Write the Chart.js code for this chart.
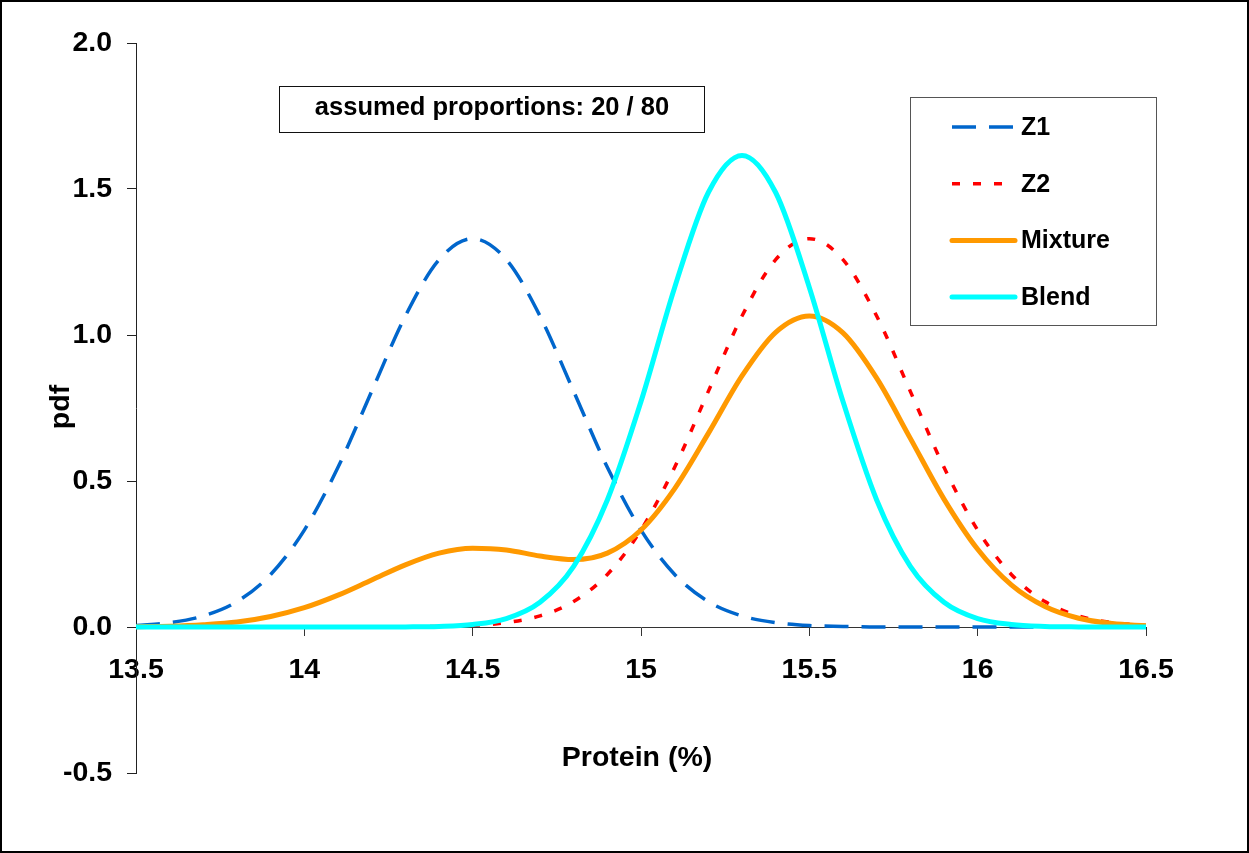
<!DOCTYPE html>
<html><head><meta charset="utf-8">
<script src="https://cdn.jsdelivr.net/npm/chart.js@4/dist/chart.umd.min.js"></script>
<style>html,body{margin:0;padding:0;background:#fff;overflow:hidden}#wrap{width:1249px;height:853px;position:relative}</style>
</head><body><div id="wrap"><canvas id="c" width="1249" height="853"></canvas></div>
<script>
// ---- data ----
const protein = [13.5,13.6,13.7,13.8,13.9,14.0,14.1,14.2,14.3,14.4,14.5,14.6,14.7,14.8,14.9,15.0,15.1,15.2,15.3,15.4,15.5,15.6,15.7,15.8,15.9,16.0,16.1,16.2,16.3,16.4,16.5];
const z1 = [0.005,0.015,0.038,0.087,0.180,0.332,0.547,0.807,1.065,1.258,1.330,1.258,1.065,0.807,0.547,0.332,0.180,0.087,0.038,0.015,0.005,0.002,0,0,0,0,0,0,0,0,0];
const z2 = [0,0,0,0,0,0,0,0,0,0.002,0.005,0.015,0.038,0.087,0.180,0.332,0.547,0.807,1.065,1.258,1.330,1.258,1.065,0.807,0.547,0.332,0.180,0.087,0.038,0.015,0.005];
const mixture = [0.001,0.003,0.008,0.017,0.036,0.066,0.109,0.161,0.213,0.253,0.270,0.264,0.243,0.231,0.253,0.332,0.474,0.663,0.860,1.009,1.065,1.007,0.852,0.646,0.438,0.266,0.144,0.070,0.030,0.012,0.004];
const blend = [0,0,0,0,0,0,0,0,0.0004,0.002,0.0085,0.029,0.085,0.208,0.435,0.772,1.163,1.488,1.615,1.488,1.163,0.772,0.435,0.208,0.085,0.029,0.0085,0.002,0.0004,0,0];
const seriesNames = ['Z1','Z2','Mixture','Blend'];
const xTickValues = [13.5,14,14.5,15,15.5,16,16.5];
const yTickValues = [-0.5,0,0.5,1,1.5,2];
const noteText = 'assumed proportions: 20 / 80';
const xTitle = 'Protein (%)';
const yTitle = 'pdf';

// ---- styles ----
const FONT = '"Liberation Sans", Arial, Helvetica, sans-serif';
const seriesColors = ['#0066CC','#FF0000','#FF9900','#00FFFF'];
const seriesWidths = [3.5,3.5,5,5];
const seriesDash = [[24,13],[8,13],[],[]];
const seriesValues = [z1,z2,mixture,blend];

const datasets = seriesNames.map((name,i)=>({
  label:name,
  data: protein.map((x,j)=>({x:x, y:seriesValues[i][j]})),
  borderColor: seriesColors[i],
  backgroundColor: seriesColors[i],
  borderWidth: seriesWidths[i],
  borderDash: seriesDash[i],
  borderCapStyle: 'butt',
  pointRadius: 0,
  fill: false,
  cubicInterpolationMode: 'monotone',
  order: 4 - i
}));

const decor = {
  id:'decor',
  afterDraw(chart){
    const ctx = chart.ctx;
    ctx.save();
    // outer frame
    ctx.strokeStyle = '#000'; ctx.lineWidth = 2; ctx.setLineDash([]);
    ctx.strokeRect(1,1,chart.width-2,chart.height-2);
    // note box
    ctx.lineWidth = 1; ctx.strokeStyle = '#111';
    ctx.strokeRect(279.5,86.5,425,46);
    ctx.fillStyle = '#000';
    ctx.font = 'bold 25.5px ' + FONT;
    ctx.textAlign = 'center'; ctx.textBaseline = 'middle';
    ctx.fillText(noteText, 492, 108);
    // legend box
    ctx.strokeStyle = '#555';
    ctx.strokeRect(910.5,97.5,246,228);
    ctx.font = 'bold 25px ' + FONT;
    ctx.textAlign = 'left';
    chart.data.datasets.forEach((ds,i)=>{
      const y = 127 + i*56.7;
      ctx.beginPath();
      ctx.strokeStyle = ds.borderColor;
      ctx.lineWidth = ds.borderWidth;
      ctx.setLineDash(ds.borderDash || []);
      ctx.lineCap = (ds.borderDash && ds.borderDash.length) ? 'butt' : 'round';
      ctx.moveTo(952, y); ctx.lineTo(1015, y);
      ctx.stroke();
      ctx.setLineDash([]);
      ctx.fillStyle = '#000';
      ctx.fillText(ds.label, 1021, y+1);
    });
    // axis titles
    ctx.font = 'bold 28.5px ' + FONT;
    ctx.fillStyle = '#000';
    ctx.textAlign = 'center'; ctx.textBaseline = 'middle';
    ctx.fillText(xTitle, 637, 758);
    ctx.translate(61, 407);
    ctx.rotate(-Math.PI/2);
    ctx.fillText(yTitle, 0, 0);
    ctx.restore();
  }
};

new Chart(document.getElementById('c'), {
  type:'line',
  data:{datasets},
  options:{
    responsive:false,
    animation:false,
    devicePixelRatio:1,
    layout:{padding:{left:0,right:103,top:43,bottom:80}},
    plugins:{legend:{display:false},tooltip:{enabled:false}},
    scales:{
      x:{
        type:'linear', position:{y:0}, min:13.5, max:16.5,
        afterBuildTicks: s => { s.ticks = xTickValues.map(v=>({value:v})); },
        ticks:{callback:v=>String(v), font:{family:FONT,size:28.5,weight:'bold'}, color:'#000', padding:18, maxRotation:0, autoSkip:false},
        grid:{drawOnChartArea:false, drawTicks:true, tickLength:8, color:'#333', lineWidth:1},
        border:{display:true, color:'#333', width:1}
      },
      y:{
        type:'linear', position:'left', min:-0.5, max:2.0,
        afterBuildTicks: s => { s.ticks = yTickValues.map(v=>({value:v})); },
        afterFit: s => { s.width = 136; },
        ticks:{callback:v=>Number(v).toFixed(1), font:{family:FONT,size:28.5,weight:'bold'}, color:'#000', padding:15},
        grid:{drawOnChartArea:false, drawTicks:true, tickLength:9, color:'#222', lineWidth:1},
        border:{display:true, color:'#222', width:1}
      }
    }
  },
  plugins:[decor]
});
</script>
</body></html>
